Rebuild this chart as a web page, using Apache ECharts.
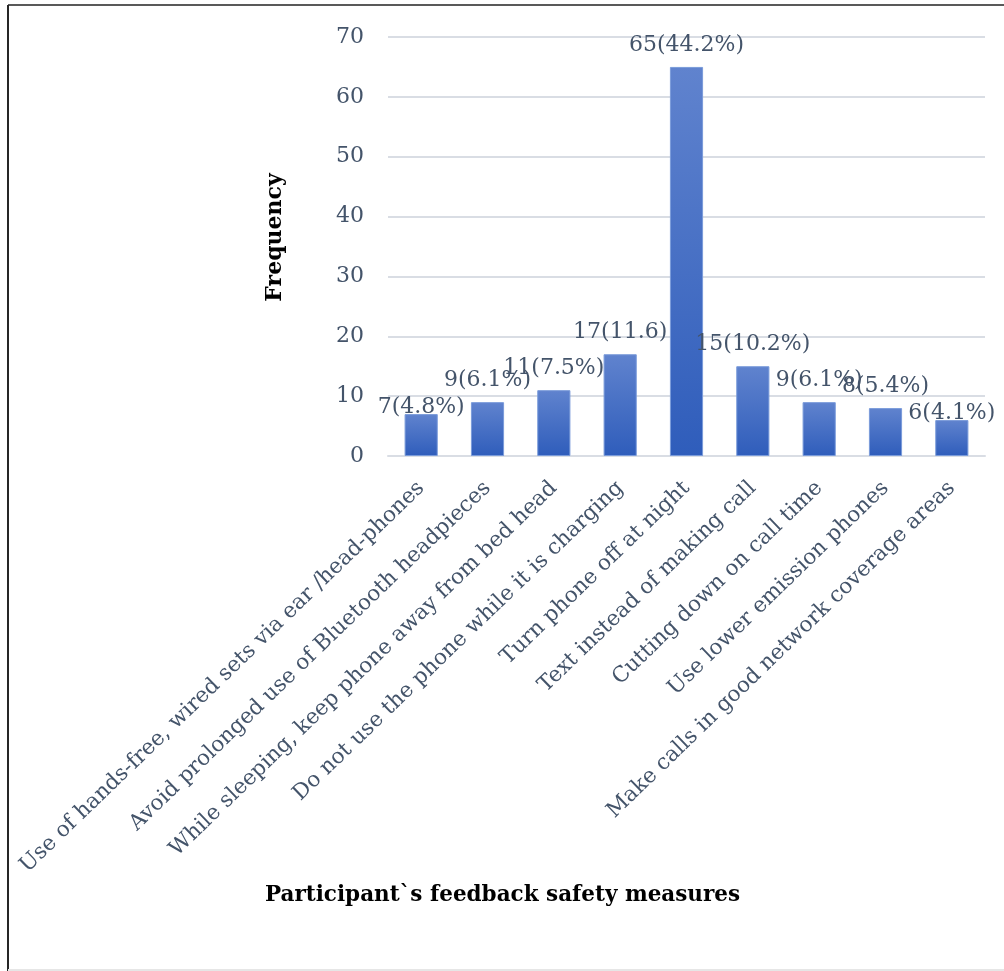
<!DOCTYPE html>
<html><head><meta charset="utf-8">
<script src="https://cdn.jsdelivr.net/npm/echarts@6/dist/echarts.min.js"></script>
<style>html,body{margin:0;padding:0;background:#fff}#c{width:1004px;height:971px}</style>
</head><body><div id="c"></div>
<script>
const categories = [
  "Use of hands-free, wired sets via ear /head-phones",
  "Avoid prolonged use of Bluetooth headpieces",
  "While sleeping, keep phone away from bed head",
  "Do not use the phone while it is charging",
  "Turn phone off at night",
  "Text instead of making call",
  "Cutting down on call time",
  "Use lower emission phones",
  "Make calls in good network coverage areas"
];
const frequencies = [7, 9, 11, 17, 65, 15, 9, 8, 6];
const barLabels = ["7(4.8%)", "9(6.1%)", "11(7.5%)", "17(11.6)", "65(44.2%)", "15(10.2%)", "9(6.1%)", "8(5.4%)", "6(4.1%)"];
const yTicks = {min: 0, max: 70, interval: 10};

const chart = echarts.init(document.getElementById('c'), null, {renderer: 'canvas'});
const serif = "'DejaVu Serif', 'Liberation Serif', serif";
const txt = '#44546A';
// first and last data labels sit lower, as in the original chart
const lowLabel = new Set([0, categories.length - 1]);
const seriesData = frequencies.map((v, i) => lowLabel.has(i) ? {value: v, label: {distance: -4}} : v);

chart.setOption({
  animation: false,
  backgroundColor: '#fff',
  grid: {left: 388, right: 19, top: 37, bottom: 515, containLabel: false, outerBoundsMode: 'none'},
  xAxis: {
    type: 'category',
    data: categories,
    axisLine: {show: true, lineStyle: {color: '#D9DDE4', width: 2}},
    axisTick: {show: false},
    axisLabel: {rotate: 44, interval: 0, margin: 29, color: txt, fontFamily: serif, fontSize: 21.5, padding: [0, 0, 0, 8]},
    name: "Participant`s feedback safety measures",
    nameLocation: 'middle',
    nameGap: 428,
    nameTextStyle: {color: '#000', fontFamily: serif, fontWeight: 'bold', fontSize: 21.5, padding: [0, 368, 0, 0]}
  },
  yAxis: {
    type: 'value',
    min: yTicks.min, max: yTicks.max, interval: yTicks.interval,
    axisLine: {show: false},
    axisTick: {show: false},
    splitLine: {lineStyle: {color: '#D9DDE4', width: 2}},
    axisLabel: {color: txt, fontFamily: serif, fontSize: 22, margin: 24},
    name: 'Frequency',
    nameLocation: 'middle',
    nameGap: 102,
    nameRotate: 90,
    nameTextStyle: {color: '#000', fontFamily: serif, fontWeight: 'bold', fontSize: 22, padding: [0, 0, 0, 18]}
  },
  series: [{
    type: 'bar',
    data: seriesData,
    barWidth: '50%',
    itemStyle: {
      color: new echarts.graphic.LinearGradient(0, 0, 0, 1, [
        {offset: 0, color: '#6083CE'},
        {offset: 1, color: '#2F5DBB'}
      ]),
      borderColor: '#7A9BDA', borderWidth: 1
    },
    label: {
      show: true, position: 'top', distance: 11,
      color: txt, fontFamily: serif, fontSize: 22,
      formatter: p => barLabels[p.dataIndex]
    }
  }],
  graphic: [
    {type: 'line', shape: {x1: 8, y1: 5, x2: 1004, y2: 5}, style: {stroke: '#595959', lineWidth: 2}},
    {type: 'line', shape: {x1: 8, y1: 5, x2: 8, y2: 971}, style: {stroke: '#262626', lineWidth: 2}},
    {type: 'line', shape: {x1: 8, y1: 970, x2: 1004, y2: 970}, style: {stroke: '#E6E6E6', lineWidth: 2}}
  ]
});
</script></body></html>
